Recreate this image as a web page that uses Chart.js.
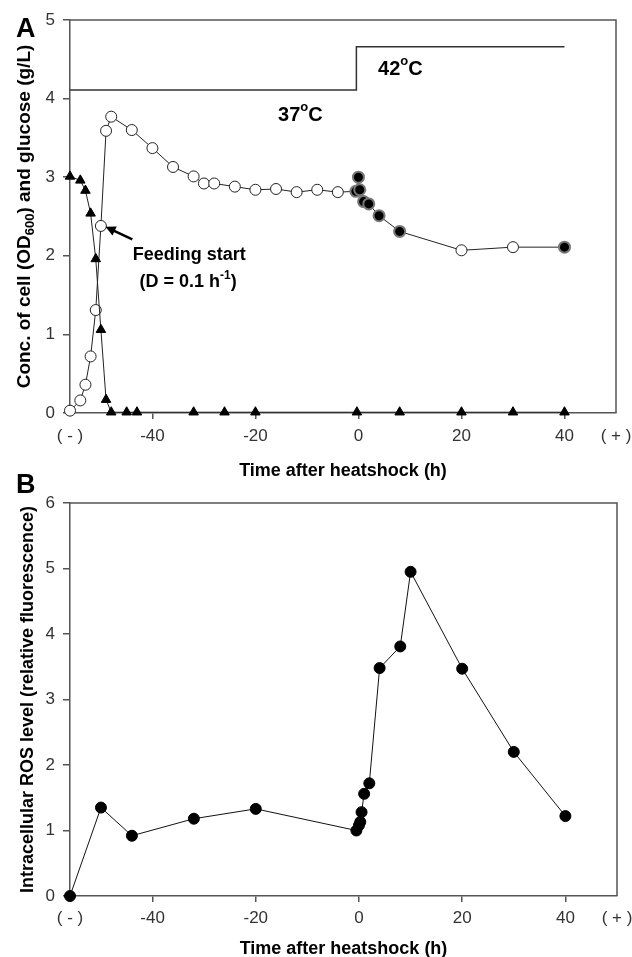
<!DOCTYPE html>
<html>
<head>
<meta charset="utf-8">
<script src="https://cdn.jsdelivr.net/npm/chart.js@4"></script>
<style>
  body { margin: 0; background: #fff; }
  .panel { position: absolute; left: 0; }
</style>
</head>
<body>
<div class="panel" style="top:0"><canvas id="chartA" width="632" height="482"></canvas></div>
<div class="panel" style="top:440px"><canvas id="chartB" width="632" height="517"></canvas></div>
<script>
// ---- data ----
// x axis: time after heatshock (h); -56 is the "(-)" end, 50 the "(+)" end
const xTickVals = [-56, -40, -20, 0, 20, 40, 50];

// panel A: cell concentration (OD600)
const cellTime = [-56, -54, -53, -52, -51, -50, -49, -48, -44, -40, -36, -32, -30, -28, -24, -20, -16, -12, -8, -4, -0.5, 0, 0.25, 1, 2, 4, 8, 20, 30, 40];
const cellOD = [0.03, 0.16, 0.36, 0.72, 1.31, 2.38, 3.59, 3.77, 3.60, 3.37, 3.13, 3.01, 2.92, 2.92, 2.88, 2.84, 2.85, 2.81, 2.84, 2.81, 2.82, 3.00, 2.84, 2.69, 2.66, 2.51, 2.31, 2.07, 2.11, 2.11];
// samples also taken for ROS (drawn as filled markers)
const cellRosSample = [0, 0, 0, 0, 0, 0, 0, 0, 0, 0, 0, 0, 0, 0, 0, 0, 0, 0, 0, 0, 1, 1, 1, 1, 1, 1, 1, 0, 0, 1];

// panel A: glucose (g/L)
const glucoseTime = [-56, -54, -53, -52, -51, -50, -49, -48, -45, -43, -32, -26, -20, -0.3, 8, 20, 30, 40];
const glucose = [3.01, 2.96, 2.83, 2.54, 1.96, 1.06, 0.17, 0.01, 0.01, 0.01, 0.01, 0.01, 0.01, 0.01, 0.01, 0.01, 0.01, 0.01];

// panel A: temperature profile line (37 -> 42 C)
const tempTime = [-56, -0.4, -0.4, 40];
const tempLevel = [4.11, 4.11, 4.66, 4.66];

// panel B: intracellular ROS level
const rosTime = [-56, -50, -44, -32, -20, -0.5, 0, 0.25, 0.5, 1, 2, 4, 8, 10, 20, 30, 40];
const ros = [0, 1.35, 0.92, 1.18, 1.33, 1.00, 1.08, 1.13, 1.28, 1.56, 1.72, 3.48, 3.81, 4.95, 3.47, 2.20, 1.22];

const FONT = '"Liberation Sans", Arial, sans-serif';
const axisColor = '#555';

function pairs(xs, ys) {
    return xs.map((x, i) => ({x: x, y: ys[i]}));
}

// draw text made of runs (for sub/superscripts), centred or left aligned
function drawRuns(ctx, runs, x, y, align) {
    let total = 0;
    runs.forEach(r => {
        ctx.font = 'bold ' + r.size + 'px ' + FONT;
        r.w = ctx.measureText(r.t).width;
        total += r.w;
    });
    let cx = align === 'center' ? x - total / 2 : x;
    ctx.textAlign = 'left';
    ctx.textBaseline = 'alphabetic';
    runs.forEach(r => {
        ctx.font = 'bold ' + r.size + 'px ' + FONT;
        ctx.fillText(r.t, cx, y + (r.dy || 0));
        cx += r.w;
    });
}

function xScaleOpts(tickPad, height) {
    return {
        type: 'linear',
        min: -56,
        max: 50,
        afterBuildTicks: scale => { scale.ticks = xTickVals.map(v => ({value: v})); },
        afterFit: scale => { scale.height = height; scale.paddingLeft = 0; scale.paddingRight = 0; },
        ticks: {
            color: '#333',
            font: {family: FONT, size: 17},
            padding: tickPad,
            maxRotation: 0,
            autoSkip: false,
            callback: v => v === -56 ? '( - )' : (v === 50 ? '( + )' : v)
        },
        grid: {
            drawOnChartArea: false,
            tickLength: 6,
            lineWidth: 1.5,
            color: ctx => (ctx.tick && (ctx.tick.value === -56 || ctx.tick.value === 50)) ? 'rgba(0,0,0,0)' : axisColor
        },
        border: {color: axisColor, width: 1.5}
    };
}

function yScaleOpts(max) {
    return {
        min: 0,
        max: max,
        afterFit: scale => { scale.width = 70; scale.paddingTop = 0; scale.paddingBottom = 0; },
        ticks: {
            stepSize: 1,
            color: '#333',
            font: {family: FONT, size: 17},
            padding: 8
        },
        grid: {drawOnChartArea: false, tickLength: 7, lineWidth: 1.5, color: axisColor},
        border: {color: axisColor, width: 1.5}
    };
}

// frame on top and right of the plot area
const framePlugin = {
    id: 'frame',
    beforeDatasetsDraw(chart) {
        const a = chart.chartArea, ctx = chart.ctx;
        ctx.save();
        ctx.strokeStyle = axisColor;
        ctx.lineWidth = 1.5;
        ctx.beginPath();
        ctx.moveTo(a.left, a.top);
        ctx.lineTo(a.right, a.top);
        ctx.lineTo(a.right, a.bottom);
        ctx.stroke();
        ctx.restore();
    }
};

// ---- panel A ----
const textA = {
    id: 'textA',
    afterDraw(chart) {
        const ctx = chart.ctx, xs = chart.scales.x, ys = chart.scales.y;
        const a = chart.chartArea;
        ctx.save();
        ctx.fillStyle = '#000';
        drawRuns(ctx, [{t: 'A', size: 27}], 16, 37, 'left');
        drawRuns(ctx, [{t: 'Time after heatshock (h)', size: 18}], (a.left + a.right) / 2, 476, 'center');

        // y title with subscript
        ctx.save();
        ctx.translate(30, (a.top + a.bottom) / 2);
        ctx.rotate(-Math.PI / 2);
        drawRuns(ctx, [
            {t: 'Conc. of cell (OD', size: 19},
            {t: '600', size: 13, dy: 4},
            {t: ') and glucose (g/L)', size: 19}
        ], 0, 0, 'center');
        ctx.restore();

        // temperature labels
        drawRuns(ctx, [{t: '37', size: 20}, {t: 'o', size: 13, dy: -10}, {t: 'C', size: 20}],
            xs.getPixelForValue(-15.6), ys.getPixelForValue(3.72), 'left');
        drawRuns(ctx, [{t: '42', size: 20}, {t: 'o', size: 13, dy: -10}, {t: 'C', size: 20}],
            xs.getPixelForValue(3.8), ys.getPixelForValue(4.30), 'left');

        // feeding start annotation
        drawRuns(ctx, [{t: 'Feeding start', size: 18}],
            xs.getPixelForValue(-43.8), ys.getPixelForValue(1.95), 'left');
        drawRuns(ctx, [{t: '(D = 0.1 h', size: 18}, {t: '-1', size: 12, dy: -8}, {t: ')', size: 18}],
            xs.getPixelForValue(-42.5), ys.getPixelForValue(1.60), 'left');

        const x0 = xs.getPixelForValue(-43.9), y0 = ys.getPixelForValue(2.21);
        const x1 = xs.getPixelForValue(-49.1), y1 = ys.getPixelForValue(2.37);
        const ang = Math.atan2(y1 - y0, x1 - x0);
        ctx.strokeStyle = '#000';
        ctx.lineWidth = 2.5;
        ctx.beginPath();
        ctx.moveTo(x0, y0);
        ctx.lineTo(x1 - 6 * Math.cos(ang), y1 - 6 * Math.sin(ang));
        ctx.stroke();
        ctx.beginPath();
        ctx.moveTo(x1, y1);
        ctx.lineTo(x1 - 10 * Math.cos(ang) + 5 * Math.sin(ang), y1 - 10 * Math.sin(ang) - 5 * Math.cos(ang));
        ctx.lineTo(x1 - 10 * Math.cos(ang) - 5 * Math.sin(ang), y1 - 10 * Math.sin(ang) + 5 * Math.cos(ang));
        ctx.closePath();
        ctx.fill();
        ctx.restore();
    }
};

const chartA = new Chart(document.getElementById('chartA'), {
    type: 'scatter',
    data: {
        datasets: [
            {
                label: 'Temperature',
                data: pairs(tempTime, tempLevel),
                showLine: true,
                borderColor: '#333',
                borderWidth: 1.5,
                pointRadius: 0,
                clip: false
            },
            {
                label: 'Glucose',
                data: pairs(glucoseTime, glucose),
                showLine: true,
                borderColor: '#222',
                borderWidth: 1,
                pointStyle: 'triangle',
                pointRadius: 5.5,
                pointBackgroundColor: '#000',
                pointBorderColor: '#000',
                pointBorderWidth: 1,
                clip: false
            },
            {
                label: 'Cell OD600',
                data: pairs(cellTime, cellOD),
                showLine: true,
                borderColor: '#222',
                borderWidth: 1,
                pointRadius: 5.5,
                pointBackgroundColor: cellRosSample.map(f => f ? '#000' : '#fff'),
                pointBorderColor: cellRosSample.map(f => f ? '#777' : '#222'),
                pointBorderWidth: cellRosSample.map(f => f ? 2 : 1),
                clip: false
            }
        ]
    },
    options: {
        responsive: false,
        animation: false,
        layout: {padding: {left: 0, top: 20, right: 16, bottom: 0}},
        scales: {
            x: xScaleOpts(7, 69),
            y: yScaleOpts(5)
        },
        plugins: {legend: {display: false}, tooltip: {enabled: false}}
    },
    plugins: [framePlugin, textA]
});

// ---- panel B ----
const textB = {
    id: 'textB',
    afterDraw(chart) {
        const ctx = chart.ctx, a = chart.chartArea;
        ctx.save();
        ctx.fillStyle = '#000';
        drawRuns(ctx, [{t: 'B', size: 27}], 16, 53, 'left');
        drawRuns(ctx, [{t: 'Time after heatshock (h)', size: 18}], (a.left + a.right) / 2, 514, 'center');
        ctx.save();
        ctx.translate(33, (a.top + a.bottom) / 2);
        ctx.rotate(-Math.PI / 2);
        drawRuns(ctx, [{t: 'Intracellular ROS level (relative fluorescence)', size: 18}], 0, 0, 'center');
        ctx.restore();
        ctx.restore();
    }
};

const chartB = new Chart(document.getElementById('chartB'), {
    type: 'scatter',
    data: {
        datasets: [{
            label: 'ROS',
            data: pairs(rosTime, ros),
            showLine: true,
            borderColor: '#111',
            borderWidth: 1,
            pointRadius: 5.5,
            pointBackgroundColor: '#000',
            pointBorderColor: '#000',
            pointBorderWidth: 1,
            clip: false
        }]
    },
    options: {
        responsive: false,
        animation: false,
        layout: {padding: {left: 0, top: 63, right: 15, bottom: 0}},
        scales: {
            x: xScaleOpts(6, 61),
            y: yScaleOpts(6)
        },
        plugins: {legend: {display: false}, tooltip: {enabled: false}}
    },
    plugins: [framePlugin, textB]
});
</script>
</body>
</html>
